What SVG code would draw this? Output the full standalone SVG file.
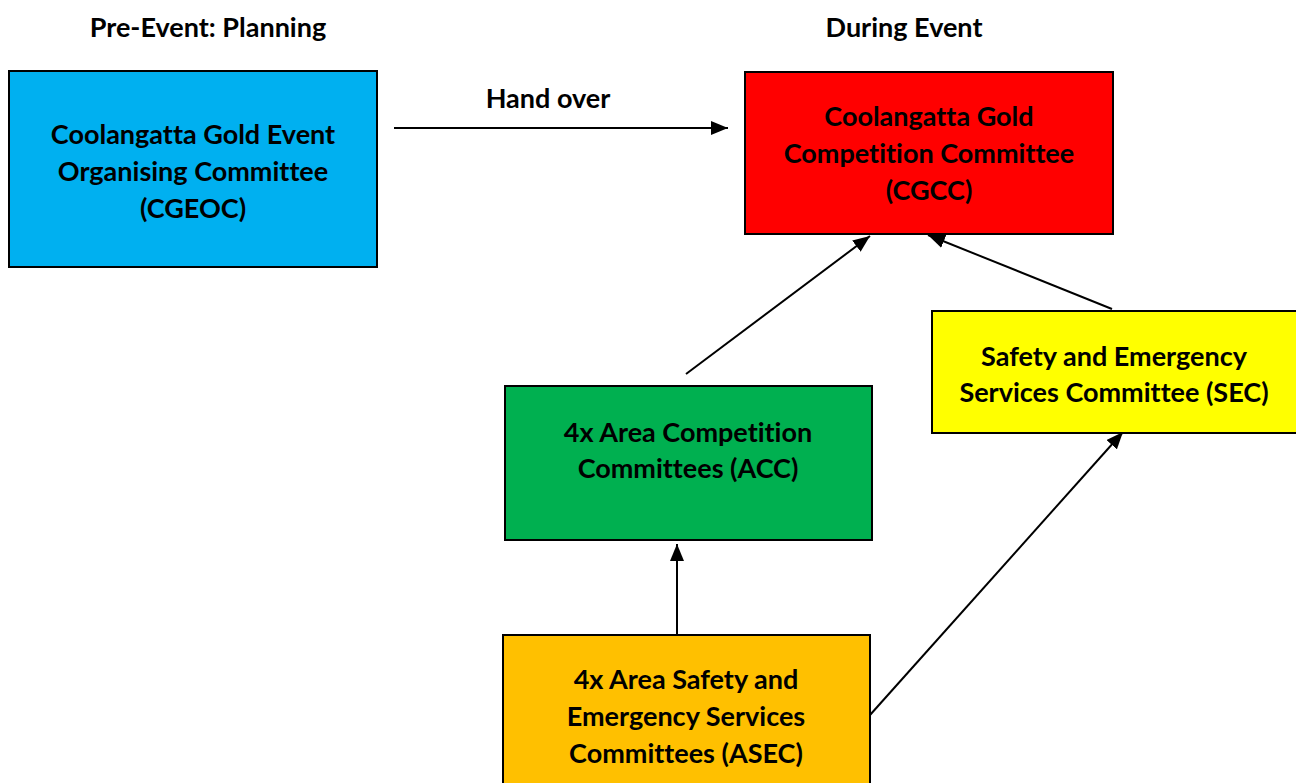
<svg xmlns="http://www.w3.org/2000/svg" width="1296" height="783" viewBox="0 0 1296 783">
<style>
.box{stroke:#000;stroke-width:2}
.t{font-family:Lato,"Liberation Sans",sans-serif;font-weight:bold;font-size:27px;fill:#000;text-anchor:middle;font-variant-ligatures:none}
.c{stroke:#000;stroke-width:2;fill:none;marker-end:url(#ah)}
</style>
<defs>
<marker id="ah" viewBox="0 0 10 10" refX="10" refY="5" markerWidth="17" markerHeight="14" markerUnits="userSpaceOnUse" orient="auto" preserveAspectRatio="none"><path d="M0,0 L10,5 L0,10 z" fill="#000"/></marker>
</defs>
<rect width="1296" height="783" fill="#fff"/>
<text class="t" x="208" y="37">Pre-Event: Planning</text>
<text class="t" x="904" y="37">During Event</text>
<text class="t" x="548" y="108">Hand over</text>
<g id="connectors">
<line class="c" x1="394" y1="128" x2="728" y2="128"/>
<line class="c" x1="686" y1="374" x2="870" y2="236"/>
<line class="c" x1="1112" y1="309" x2="928" y2="235"/>
<line class="c" x1="677" y1="635" x2="677" y2="544"/>
<line class="c" x1="870" y1="715" x2="1123" y2="432"/>
</g>
<g id="cgeoc">
<rect class="box" x="9" y="71" width="368" height="196" fill="#00B0F0"/>
<text class="t" x="193" y="144">Coolangatta Gold Event</text>
<text class="t" x="193" y="181">Organising Committee</text>
<text class="t" x="193" y="218">(CGEOC)</text>
</g>
<g id="cgcc">
<rect class="box" x="745" y="72" width="368" height="162" fill="#FF0000"/>
<text class="t" x="929" y="126">Coolangatta Gold</text>
<text class="t" x="929" y="163">Competition Committee</text>
<text class="t" x="929" y="200">(CGCC)</text>
</g>
<g id="sec">
<rect class="box" x="932" y="311" width="366" height="122" fill="#FFFF00"/>
<text class="t" x="1114" y="366">Safety and Emergency</text>
<text class="t" x="1114" y="402">Services Committee (SEC)</text>
</g>
<g id="acc">
<rect class="box" x="505" y="386" width="367" height="154" fill="#00B050"/>
<text class="t" x="688" y="442">4x Area Competition</text>
<text class="t" x="688" y="478">Committees (ACC)</text>
</g>
<g id="asec">
<rect class="box" x="503" y="635" width="367" height="160" fill="#FFC000"/>
<text class="t" x="686" y="689">4x Area Safety and</text>
<text class="t" x="686" y="726">Emergency Services</text>
<text class="t" x="686" y="763">Committees (ASEC)</text>
</g>
</svg>
